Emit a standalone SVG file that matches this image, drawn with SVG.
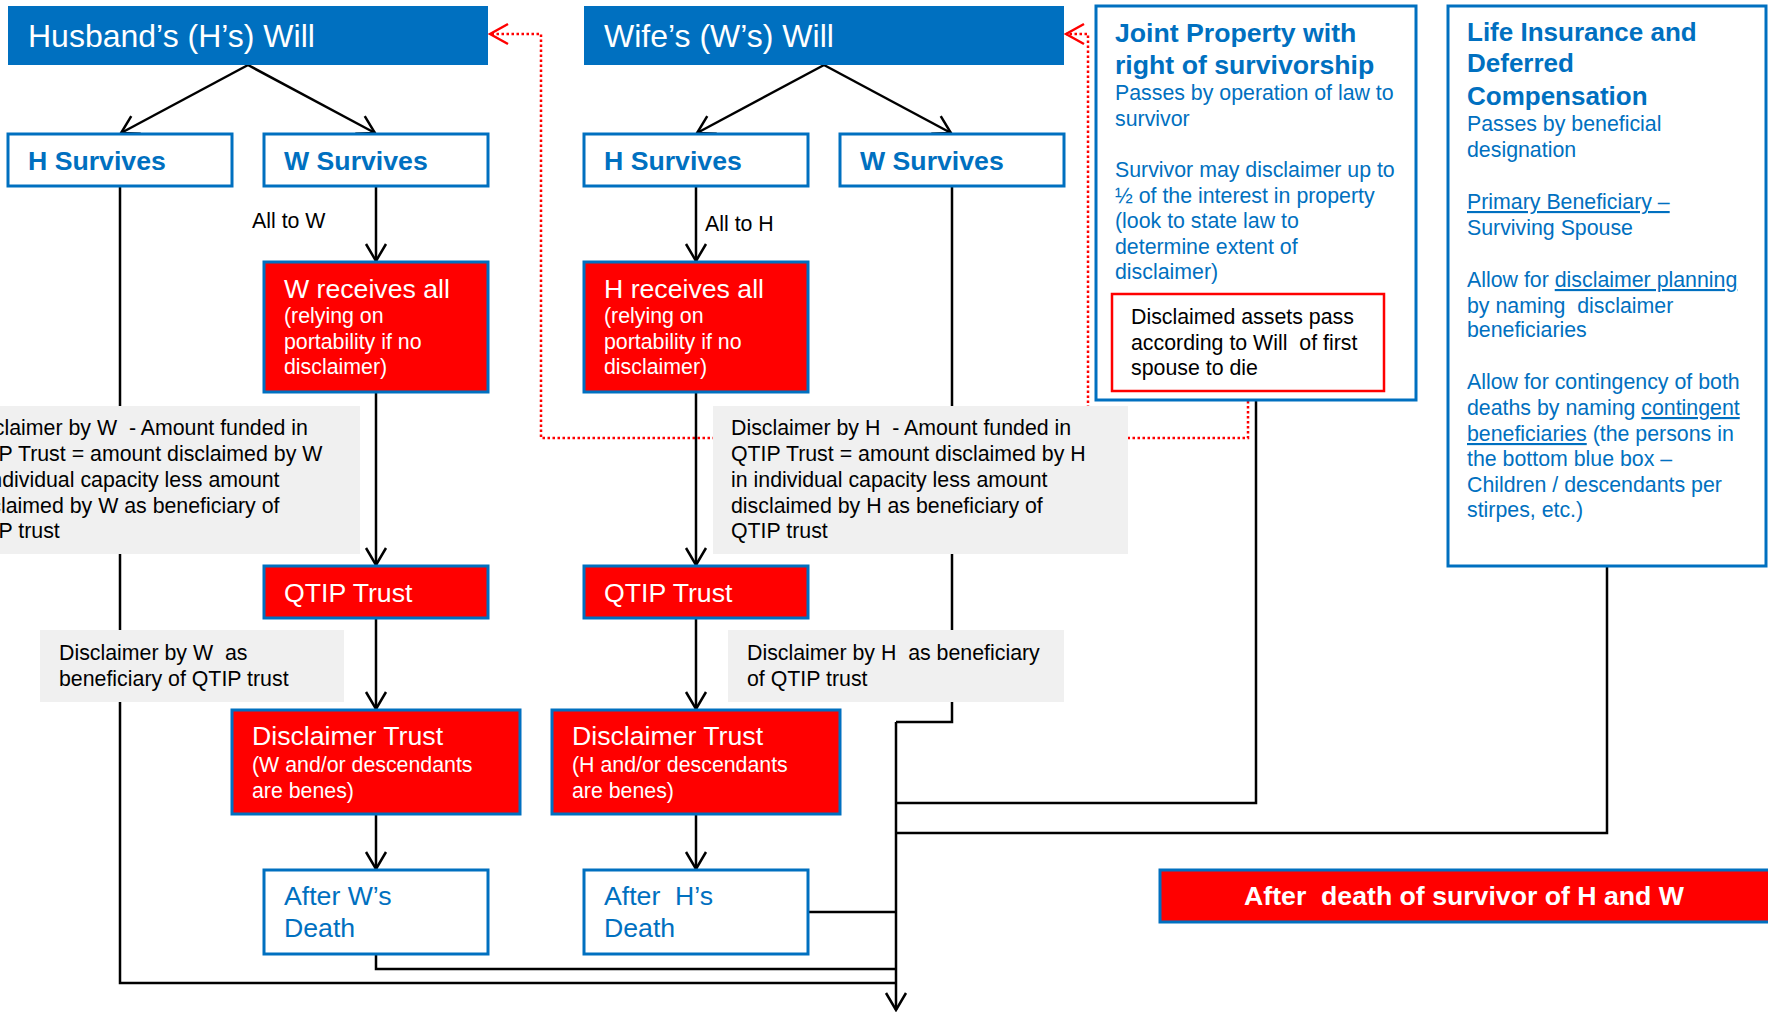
<svg xmlns="http://www.w3.org/2000/svg" width="1768" height="1012" viewBox="0 0 1768 1012">
<style>
text{font-family:"Liberation Sans",Arial,sans-serif}
.conn{fill:none;stroke:#000;stroke-width:2.5}
.dot{fill:none;stroke:#FF0000;stroke-width:2.5;stroke-dasharray:2.5 2.5}
.bar{fill:#0070C0}
.wbox{fill:#fff;stroke:#0070C0;stroke-width:3}
.rbox{fill:#FF0000;stroke:#0070C0;stroke-width:3}
.gray{fill:#F0F0F0}
.title{font-size:32px;fill:#fff}
.bb{font-size:26.67px;font-weight:bold;fill:#0070C0}
.wt{font-size:26.67px;fill:#fff}
.ws{font-size:21.33px;fill:#fff}
.lbl{font-size:21.33px;fill:#000}
.blue{font-size:21.33px;fill:#0070C0}
.bt{font-size:26.67px;fill:#0070C0}
</style>
<defs>
<marker id="ah" markerUnits="userSpaceOnUse" viewBox="-20 -12 22 24" refX="0" refY="0" markerWidth="22" markerHeight="24" orient="auto">
<path d="M-17,-10 L0,0 L-17,10" fill="none" stroke="#000" stroke-width="2.5"/>
</marker>
<marker id="rah" markerUnits="userSpaceOnUse" viewBox="-20 -12 22 24" refX="0" refY="0" markerWidth="22" markerHeight="24" orient="auto">
<path d="M-18,-10 L0,0 L-18,10" fill="none" stroke="#FF0000" stroke-width="2.5"/>
</marker>
</defs>
<rect width="1768" height="1012" fill="#fff"/>

<g id="connectors">
<path class="dot" d="M1248,391 L1248,438 L541,438 L541,34 L490,34" marker-end="url(#rah)"/>
<path class="dot" d="M1088,438 L1088,34 L1066,34" marker-end="url(#rah)"/>
<path class="conn" d="M248,65 L121,133" marker-end="url(#ah)"/>
<path class="conn" d="M248,65 L375,133" marker-end="url(#ah)"/>
<path class="conn" d="M824,65 L697,133" marker-end="url(#ah)"/>
<path class="conn" d="M824,65 L951,133" marker-end="url(#ah)"/>
<path class="conn" d="M376,186 L376,261" marker-end="url(#ah)"/>
<path class="conn" d="M376,392 L376,565" marker-end="url(#ah)"/>
<path class="conn" d="M376,618 L376,709" marker-end="url(#ah)"/>
<path class="conn" d="M376,814 L376,869" marker-end="url(#ah)"/>
<path class="conn" d="M696,186 L696,261" marker-end="url(#ah)"/>
<path class="conn" d="M696,392 L696,565" marker-end="url(#ah)"/>
<path class="conn" d="M696,618 L696,709" marker-end="url(#ah)"/>
<path class="conn" d="M696,814 L696,869" marker-end="url(#ah)"/>
<path class="conn" d="M120,186 L120,983 L896,983"/>
<path class="conn" d="M376,954 L376,969 L896,969"/>
<path class="conn" d="M808,912 L896,912"/>
<path class="conn" d="M952,186 L952,722 L896,722"/>
<path class="conn" d="M1256,400 L1256,803 L896,803"/>
<path class="conn" d="M1607,566 L1607,833 L896,833"/>
<path class="conn" d="M896,722 L896,1010" marker-end="url(#ah)"/>
</g>

<g id="label-all-to-w"><text class="lbl" x="252" y="228">All to W</text></g>
<g id="label-all-to-h"><text class="lbl" x="705" y="231">All to H</text></g>

<g id="label-disclaimer-w">
<rect class="gray" x="-56" y="406" width="416" height="148"/>
<text class="lbl" x="-37" y="435" xml:space="preserve">Disclaimer by W  - Amount funded in</text>
<text class="lbl" x="-37" y="461">QTIP Trust = amount disclaimed by W</text>
<text class="lbl" x="-37" y="487">in individual capacity less amount</text>
<text class="lbl" x="-37" y="513">disclaimed by W as beneficiary of</text>
<text class="lbl" x="-37" y="538">QTIP trust</text>
</g>
<g id="label-disclaimer-h">
<rect class="gray" x="713" y="406" width="415" height="148"/>
<text class="lbl" x="731" y="435" xml:space="preserve">Disclaimer by H  - Amount funded in</text>
<text class="lbl" x="731" y="461">QTIP Trust = amount disclaimed by H</text>
<text class="lbl" x="731" y="487">in individual capacity less amount</text>
<text class="lbl" x="731" y="513">disclaimed by H as beneficiary of</text>
<text class="lbl" x="731" y="538">QTIP trust</text>
</g>
<g id="label-qtip-w">
<rect class="gray" x="40" y="630" width="304" height="72"/>
<text class="lbl" x="59" y="660" xml:space="preserve">Disclaimer by W  as</text>
<text class="lbl" x="59" y="686">beneficiary of QTIP trust</text>
</g>
<g id="label-qtip-h">
<rect class="gray" x="728" y="630" width="336" height="72"/>
<text class="lbl" x="747" y="660" xml:space="preserve">Disclaimer by H  as beneficiary</text>
<text class="lbl" x="747" y="686">of QTIP trust</text>
</g>

<g id="husband-will">
<rect class="bar" x="8" y="6" width="480" height="59"/>
<text class="title" x="28" y="47">Husband’s (H’s) Will</text>
</g>
<g id="wife-will">
<rect class="bar" x="584" y="6" width="480" height="59"/>
<text class="title" x="604" y="47">Wife’s (W’s) Will</text>
</g>

<g id="h-survives-left">
<rect class="wbox" x="8" y="134" width="224" height="52"/>
<text class="bb" x="28" y="170">H Survives</text>
</g>
<g id="w-survives-left">
<rect class="wbox" x="264" y="134" width="224" height="52"/>
<text class="bb" x="284" y="170">W Survives</text>
</g>
<g id="h-survives-right">
<rect class="wbox" x="584" y="134" width="224" height="52"/>
<text class="bb" x="604" y="170">H Survives</text>
</g>
<g id="w-survives-right">
<rect class="wbox" x="840" y="134" width="224" height="52"/>
<text class="bb" x="860" y="170">W Survives</text>
</g>

<g id="w-receives-all">
<rect class="rbox" x="264" y="262" width="224" height="130"/>
<text class="wt" x="284" y="298">W receives all</text>
<text class="ws" x="284" y="323">(relying on</text>
<text class="ws" x="284" y="349">portability if no</text>
<text class="ws" x="284" y="374">disclaimer)</text>
</g>
<g id="h-receives-all">
<rect class="rbox" x="584" y="262" width="224" height="130"/>
<text class="wt" x="604" y="298">H receives all</text>
<text class="ws" x="604" y="323">(relying on</text>
<text class="ws" x="604" y="349">portability if no</text>
<text class="ws" x="604" y="374">disclaimer)</text>
</g>

<g id="qtip-left">
<rect class="rbox" x="264" y="566" width="224" height="52"/>
<text class="wt" x="284" y="602">QTIP Trust</text>
</g>
<g id="qtip-right">
<rect class="rbox" x="584" y="566" width="224" height="52"/>
<text class="wt" x="604" y="602">QTIP Trust</text>
</g>

<g id="disclaimer-trust-left">
<rect class="rbox" x="232" y="710" width="288" height="104"/>
<text class="wt" x="252" y="745">Disclaimer Trust</text>
<text class="ws" x="252" y="772">(W and/or descendants</text>
<text class="ws" x="252" y="798">are benes)</text>
</g>
<g id="disclaimer-trust-right">
<rect class="rbox" x="552" y="710" width="288" height="104"/>
<text class="wt" x="572" y="745">Disclaimer Trust</text>
<text class="ws" x="572" y="772">(H and/or descendants</text>
<text class="ws" x="572" y="798">are benes)</text>
</g>

<g id="after-w-death">
<rect class="wbox" x="264" y="870" width="224" height="84"/>
<text class="bt" x="284" y="905">After W’s</text>
<text class="bt" x="284" y="937">Death</text>
</g>
<g id="after-h-death">
<rect class="wbox" x="584" y="870" width="224" height="84"/>
<text class="bt" x="604" y="905" xml:space="preserve">After  H’s</text>
<text class="bt" x="604" y="937">Death</text>
</g>

<g id="joint-property">
<rect class="wbox" x="1096" y="6" width="320" height="394"/>
<text class="bb" x="1115" y="42">Joint Property with</text>
<text class="bb" x="1115" y="74">right of survivorship</text>
<text class="blue" x="1115" y="100">Passes by operation of law to</text>
<text class="blue" x="1115" y="126">survivor</text>
<text class="blue" x="1115" y="177">Survivor may disclaimer up to</text>
<text class="blue" x="1115" y="203">½ of the interest in property</text>
<text class="blue" x="1115" y="228">(look to state law to</text>
<text class="blue" x="1115" y="254">determine extent of</text>
<text class="blue" x="1115" y="279">disclaimer)</text>
</g>
<g id="disclaimed-assets">
<rect x="1112" y="294" width="272" height="97" fill="#fff" stroke="#FF0000" stroke-width="2.5"/>
<text class="lbl" x="1131" y="324">Disclaimed assets pass</text>
<text class="lbl" x="1131" y="350" xml:space="preserve">according to Will  of first</text>
<text class="lbl" x="1131" y="375">spouse to die</text>
</g>

<g id="life-insurance">
<rect class="wbox" x="1448" y="6" width="318" height="560"/>
<text class="bb" x="1467" y="41" style="font-size:26px">Life Insurance and</text>
<text class="bb" x="1467" y="72" style="font-size:26px">Deferred</text>
<text class="bb" x="1467" y="105" style="font-size:26px">Compensation</text>
<text class="blue" x="1467" y="131">Passes by beneficial</text>
<text class="blue" x="1467" y="157">designation</text>
<text class="blue" x="1467" y="209" text-decoration="underline">Primary Beneficiary –</text>
<text class="blue" x="1467" y="235">Surviving Spouse</text>
<text class="blue" x="1467" y="287">Allow for <tspan text-decoration="underline">disclaimer planning</tspan></text>
<text class="blue" x="1467" y="313" xml:space="preserve">by naming  disclaimer</text>
<text class="blue" x="1467" y="337">beneficiaries</text>
<text class="blue" x="1467" y="389">Allow for contingency of both</text>
<text class="blue" x="1467" y="415">deaths by naming <tspan text-decoration="underline">contingent</tspan></text>
<text class="blue" x="1467" y="441"><tspan text-decoration="underline">beneficiaries</tspan> (the persons in</text>
<text class="blue" x="1467" y="466">the bottom blue box –</text>
<text class="blue" x="1467" y="492">Children / descendants per</text>
<text class="blue" x="1467" y="517">stirpes, etc.)</text>
</g>

<g id="after-death-survivor">
<rect class="rbox" x="1160" y="870" width="620" height="52"/>
<text x="1464" y="905" text-anchor="middle" xml:space="preserve" style="font-size:26.67px;font-weight:bold;fill:#fff">After  death of survivor of H and W</text>
</g>
</svg>
